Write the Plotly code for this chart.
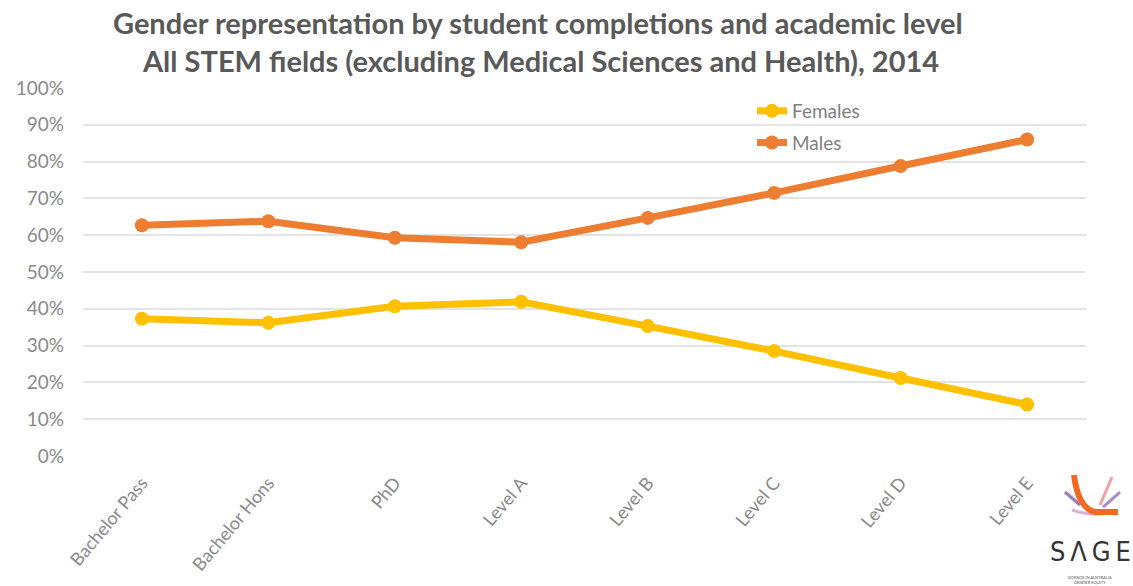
import plotly.graph_objects as go

# Categories (student completions and academic levels)
levels = ["Bachelor Pass", "Bachelor Hons", "PhD", "Level A",
          "Level B", "Level C", "Level D", "Level E"]

# Share of each gender, in percent
females = [37.3, 36.2, 40.7, 41.9, 35.3, 28.5, 21.2, 14.0]
males = [62.7, 63.8, 59.3, 58.1, 64.7, 71.5, 78.8, 86.0]

y_ticks = list(range(0, 101, 10))
y_tick_text = [f"{v}%" for v in y_ticks]

FEMALE_COLOR = "#FFC000"
MALE_COLOR = "#ED7D31"
TEXT_GREY = "#595959"
TICK_GREY = "#8a8a8a"
FONT = "Lato"

W, H = 1133, 586
M_L, M_R, M_T, M_B = 83, 47, 88, 130
PLOT_W = W - M_L - M_R
PLOT_H = H - M_T - M_B


def px(x):
    """Horizontal pixel position -> paper coordinate."""
    return (x - M_L) / PLOT_W


def py(y):
    """Vertical pixel position (from top) -> paper coordinate."""
    return (H - M_B - y) / PLOT_H


fig = go.Figure()
fig.add_trace(go.Scatter(
    x=levels, y=females, name="Females", mode="lines+markers",
    legendgroup="f",
    line=dict(color=FEMALE_COLOR, width=7),
    marker=dict(color=FEMALE_COLOR, size=14),
))
fig.add_trace(go.Scatter(
    x=levels, y=males, name="Males", mode="lines+markers",
    legendgroup="m",
    line=dict(color=MALE_COLOR, width=7),
    marker=dict(color=MALE_COLOR, size=14),
))

fig.update_layout(
    width=W, height=H,
    margin=dict(l=M_L, r=M_R, t=M_T, b=M_B),
    paper_bgcolor="white", plot_bgcolor="white",
    font=dict(family=FONT, color=TICK_GREY, size=18),
    showlegend=True,
    legend=dict(
        x=px(752), y=py(92), xanchor="left", yanchor="top",
        bgcolor="rgba(0,0,0,0)", font=dict(size=19, color="#7f7f7f"),
        itemwidth=30, tracegroupgap=4,
    ),
)

fig.update_xaxes(
    type="category", tickangle=-50, showgrid=False, zeroline=False,
    showline=False, ticks="", ticklabelstandoff=12,
    tickfont=dict(size=18, color=TICK_GREY),
)
fig.update_yaxes(
    range=[0, 100], tickvals=y_ticks, ticktext=y_tick_text,
    showgrid=True, gridcolor="#e3e3e3", gridwidth=1.5,
    zeroline=False, showline=False, ticks="",
    ticklabelstandoff=18, tickfont=dict(size=19, color=TICK_GREY),
)

# Two-line chart title
fig.add_annotation(
    xref="paper", yref="paper", x=px(538), y=py(22),
    xanchor="center", yanchor="middle", showarrow=False,
    text="<b>Gender representation by student completions and academic level</b>",
    font=dict(family=FONT, size=29, color=TEXT_GREY),
)
fig.add_annotation(
    xref="paper", yref="paper", x=px(540), y=py(60),
    xanchor="center", yanchor="middle", showarrow=False,
    text="<b>All STEM fields (excluding Medical Sciences and Health), 2014</b>",
    font=dict(family=FONT, size=29, color=TEXT_GREY),
)

# SAGE logo: swoosh strokes
def stroke(path_px, color, width):
    parts = []
    for cmd, pts in path_px:
        coords = " ".join(f"{px(x):.5f} {py(y):.5f}" for x, y in pts)
        parts.append(f"{cmd} {coords}")
    fig.add_shape(type="path", xref="paper", yref="paper",
                  path=" ".join(parts), line=dict(color=color, width=width))


stroke([("M", [(1072, 510)]), ("Q", [(1090, 516), (1107, 513)])], "#D9B3D9", 3)
stroke([("M", [(1065, 492)]), ("L", [(1080, 505)])], "#9B7BC0", 3)
stroke([("M", [(1120, 492)]), ("L", [(1103, 507)])], "#A98BCB", 3)
stroke([("M", [(1112, 477)]), ("L", [(1100, 505)])], "#F2A0A0", 3)
stroke([("M", [(1074, 475)]), ("Q", [(1078, 508), (1095, 512)]),
        ("L", [(1118, 512)])], "#F26A21", 6)

# SAGE lettering
fig.add_annotation(
    xref="paper", yref="paper", x=px(1090), y=py(551), xanchor="center",
    yanchor="middle", showarrow=False, text="S\u2009Λ\u2009G\u2009E",
    font=dict(family="Liberation Sans Narrow, DejaVu Sans Condensed",
              size=27, color="#333333"),
)
fig.add_annotation(
    xref="paper", yref="paper", x=px(1090), y=py(580), xanchor="center",
    yanchor="middle", showarrow=False,
    text="SCIENCE IN AUSTRALIA<br>GENDER EQUITY",
    font=dict(family=FONT, size=4, color="#555555"),
)

fig.write_html("out.html")
